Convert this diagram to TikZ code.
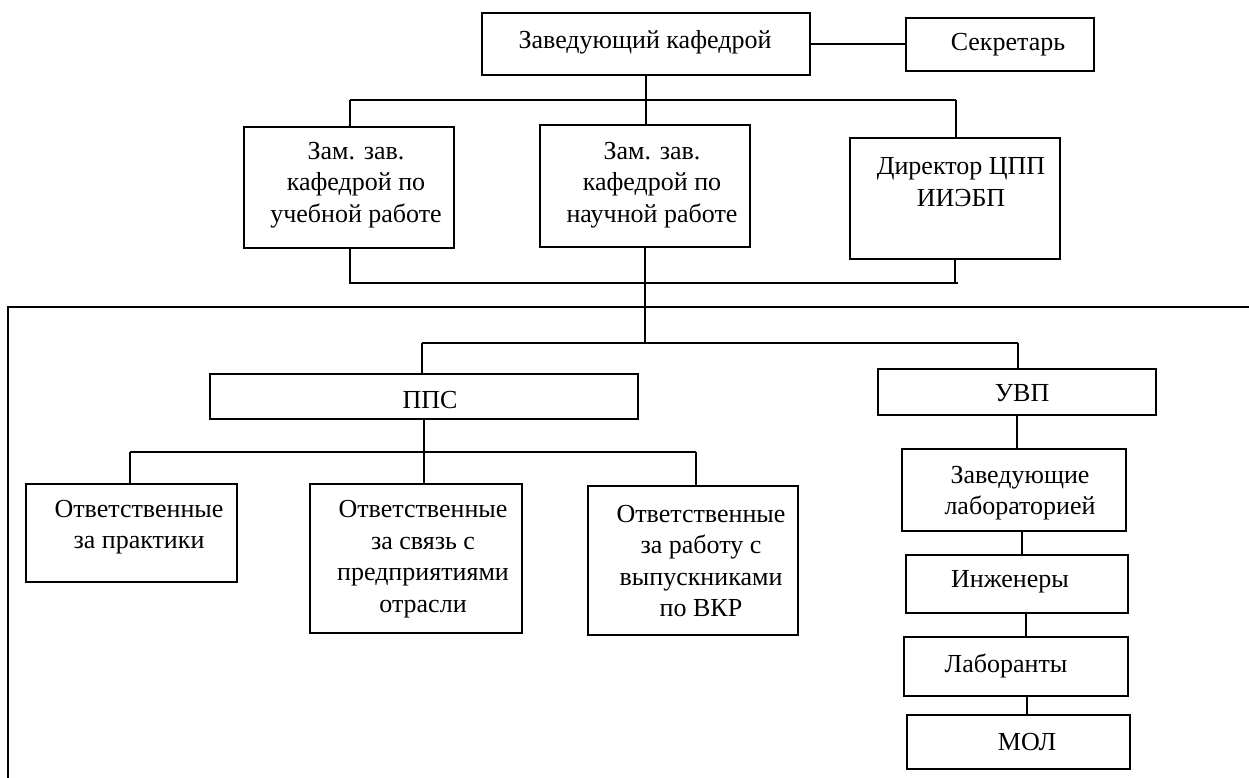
\documentclass[tikz,border=0pt]{standalone}
\usepackage{fontspec}
\setmainfont{Liberation Serif}
\begin{document}
\begin{tikzpicture}[x=1pt,y=-1pt,
  box/.style={draw,line width=1.6pt,inner sep=0pt},
  lbl/.style={inner sep=0pt,align=center,font=\fontsize{26}{31.5}\selectfont},
  conn/.style={line width=1.3pt}]
\useasboundingbox (0,0) rectangle (1249,778);
% boxes
\node[box,minimum width=328pt,minimum height=62pt] (top) at (646,44) {};
\node[box,minimum width=188pt,minimum height=53pt] (sec) at (1000,44.5) {};
\node[box,minimum width=210pt,minimum height=121pt] (z1) at (349,187.5) {};
\node[box,minimum width=210pt,minimum height=122pt] (z2) at (645,186) {};
\node[box,minimum width=210pt,minimum height=121pt] (z3) at (955,198.5) {};
\node[box,minimum width=428pt,minimum height=45pt] (pps) at (424,396.5) {};
\node[box,minimum width=278pt,minimum height=46pt] (uvp) at (1017,392) {};
\node[box,minimum width=211pt,minimum height=98pt] (o1) at (131.5,533) {};
\node[box,minimum width=212pt,minimum height=149pt] (o2) at (416,558.5) {};
\node[box,minimum width=210pt,minimum height=149pt] (o3) at (693,560.5) {};
\node[box,minimum width=224pt,minimum height=82pt] (zl) at (1014,490) {};
\node[box,minimum width=222pt,minimum height=58pt] (ing) at (1017,584) {};
\node[box,minimum width=224pt,minimum height=59pt] (lab) at (1016,666.5) {};
\node[box,minimum width=223pt,minimum height=54pt] (mol) at (1018.5,742) {};
% labels
\node[lbl] (ttop) at (645,42) {Заведующий кафедрой};
\node[lbl] (tsec) at (1008,45) {Секретарь};
\node[lbl] (tz1) at (356,185) {Зам. зав.\\кафедрой по\\учебной работе};
\node[lbl] (tz2) at (652,185) {Зам. зав.\\кафедрой по\\научной работе};
\node[lbl] (tz3) at (961,182) {Директор ЦПП\\ИИЭБП};
\node[lbl] (tpps) at (430,400) {ППС};
\node[lbl] (tuvp) at (1022,393) {УВП};
\node[lbl] (to1) at (139,527) {Ответственные\\за практики};
\node[lbl] (to2) at (423,559) {Ответственные\\за связь с\\предприятиями\\отрасли};
\node[lbl] (to3) at (701,561) {Ответственные\\за работу с\\выпускниками\\по ВКР};
\node[lbl] (tzl) at (1020,493) {Заведующие\\лабораторией};
\node[lbl] (ting) at (1010,582) {Инженеры};
\node[lbl] (tlab) at (1006,666) {Лаборанты};
\node[lbl] (tmol) at (1027,742) {МОЛ};
% bus coordinates
\coordinate (b1L) at (350,100);
\coordinate (b1R) at (956,100);
\coordinate (b2L) at (350,283);
\coordinate (b2R) at (958,283);
\coordinate (b3L) at (422,343);
\coordinate (b3R) at (1018,343);
\coordinate (b4L) at (130,452);
\coordinate (b4R) at (696,452);
\coordinate (fTL) at (8,307);
\coordinate (fTR) at (1249,307);
\coordinate (fBL) at (8,778);
% connectors
\draw[conn] (top.east) -- (top.east -| sec.west);
\draw[conn] (top.south) -- (top.south |- z2.north);
\draw[conn] (b1L) -- (b1R);
\draw[conn] (b1L) -- (b1L |- z1.north);
\draw[conn] (b1R) -- (b1R |- z3.north);
\draw[conn] (b2L |- z1.south) -- (b2L) -- (b2R);
\draw[conn] (z3.south) -- (z3.south |- b2R);
\draw[conn] (z2.south) -- (z2.south |- b3L);
\draw[conn] (fTR) -- (fTL) -- (fBL);
\draw[conn] (b3L) -- (b3R);
\draw[conn] (b3L) -- (b3L |- pps.north);
\draw[conn] (b3R) -- (b3R |- uvp.north);
\draw[conn] (pps.south) -- (pps.south |- o2.north);
\draw[conn] (b4L) -- (b4R);
\draw[conn] (b4L) -- (b4L |- o1.north);
\draw[conn] (b4R) -- (b4R |- o3.north);
\draw[conn] (uvp.south) -- (uvp.south |- zl.north);
\draw[conn] ([xshift=8pt]zl.south) -- ([xshift=8pt]zl.south |- ing.north);
\draw[conn] ([xshift=9pt]ing.south) -- ([xshift=9pt]ing.south |- lab.north);
\draw[conn] ([xshift=11pt]lab.south) -- ([xshift=11pt]lab.south |- mol.north);
\end{tikzpicture}
\end{document}
